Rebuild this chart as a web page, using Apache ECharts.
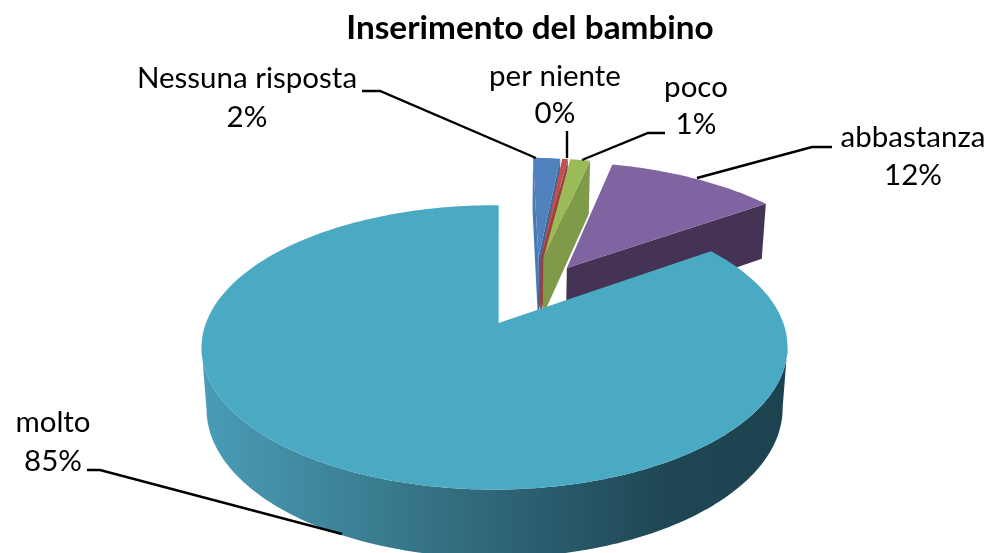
<!DOCTYPE html>
<html><head><meta charset="utf-8">
<style>html,body{margin:0;padding:0;background:#fff}#c{width:990px;height:553px}</style>
<script src="https://cdn.jsdelivr.net/npm/echarts@6/dist/echarts.min.js"></script>
</head><body><div id="c"></div>
<script>
var titleText = 'Inserimento del bambino';
var categories = ['Nessuna risposta', 'per niente', 'poco', 'abbastanza', 'molto'];
var values = [1.9, 0.4, 1.4, 11.5, 84.8];
var percentLabels = ['2%', '0%', '1%', '12%', '85%'];

// styles and layout
var topColors = ['#4F81BD', '#C0504D', '#9BBB59', '#8064A2', '#4AA9C3'];
var wallColors = ['#3D659B', '#9C3F3C', '#7F9A48', '#453355', '#2F6A7D'];
var explode = [0.29, 0.29, 0.29, 0.25, 0.25];
var explodeDir = [7, 8.7, 10.7, null, null];
var radius = [1, 1, 1, 1.04, 1];
var drawOrder = [1, 2, 3, 0, 4];
var labelBoxes = [[247, 78, 117], [555, 76, 113], [696, 87, 124], [913, 137, 175], [53, 422, 461]];
var leaders = [
  [[362, 91], [380, 91], [536, 158]],
  [[567, 131], [567, 158]],
  [[665, 133], [648, 133], [582, 160]],
  [[832, 147], [812, 147], [697, 178]],
  [[87, 470], [100, 470], [342, 534]]
];
var view = {x: 499, y: 323, a: 288.6, b: 138, k: 0.172, m: 0.0137, ou: 0.1135, ov: -0.2228};

function project(U, V) {
  var u = U + view.ou, v = V + view.ov;
  var w = 1 - view.k * v + view.m * u;
  return [view.x + view.a * u / w, view.y + view.b * v / w];
}
function drop(p) {
  var d = 45.8 + 0.0456 * p[1];
  return [view.x + (p[0] - view.x) * (1 - d * 4 / (266 * 55)), p[1] + d];
}
var total = values.reduce(function (s, v) { return s + v; }, 0);
var bounds = [], acc = 0;
values.forEach(function (v) {
  bounds.push([acc / total * 2 * Math.PI, (acc + v) / total * 2 * Math.PI]);
  acc += v;
});
function sliceGeo(i) {
  var a0 = bounds[i][0], a1 = bounds[i][1];
  var dir = explodeDir[i] === null ? (a0 + a1) / 2 : explodeDir[i] * Math.PI / 180;
  var cu = explode[i] * Math.sin(dir), cv = -explode[i] * Math.cos(dir), r = radius[i];
  var pts = [], n = Math.max(4, Math.round((a1 - a0) / 0.02));
  for (var j = 0; j <= n; j++) {
    var a = a0 + (a1 - a0) * j / n;
    pts.push(project(cu + r * Math.sin(a), cv - r * Math.cos(a)));
  }
  return {apex: project(cu, cv), arc: pts, cu: cu, cv: cv};
}
function poly(points, fill, z) {
  return {type: 'polygon', shape: {points: points}, style: {fill: fill, stroke: null}, z2: z};
}
function renderSlice(params) {
  var i = params.dataIndex, g = sliceGeo(i), kids = [];
  var z = drawOrder[i] * 10;
  var first = g.arc[0], last = g.arc[g.arc.length - 1];
  if (i === 4) {
    // front rim of the large slice, from its rightmost to its leftmost point
    var grad = new echarts.graphic.LinearGradient(0, 0, 1, 0, [
      {offset: 0, color: '#4A9DB7'}, {offset: 0.3, color: '#3A7C90'},
      {offset: 0.55, color: '#2C6072'}, {offset: 0.8, color: '#1F4653'}, {offset: 1, color: '#1D4350'}
    ]);
    var hi = 0, lo = 0;
    g.arc.forEach(function (p, j) {
      if (p[0] > g.arc[hi][0]) hi = j;
      if (p[0] < g.arc[lo][0]) lo = j;
    });
    var front = g.arc.slice(hi, lo + 1);
    var bottom = front.map(drop).reverse();
    kids.push(poly(front.concat(bottom), grad, z));
  } else {
    if (i === 0) {
      kids.push(poly([g.apex, first, drop(first), drop(g.apex)], '#4A7AB5', z));
    }
    kids.push(poly([g.apex, last, drop(last), drop(g.apex)], wallColors[i], z + 1));
  }
  kids.push(poly([g.apex].concat(g.arc), topColors[i], z + 2));
  return {type: 'group', children: kids};
}
function renderLabel(params) {
  var i = params.dataIndex, box = labelBoxes[i], font = '29.5px Lato, sans-serif';
  return {type: 'group', children: [
    {type: 'polyline', shape: {points: leaders[i]}, style: {stroke: '#000', lineWidth: 2.4, fill: null}},
    {type: 'text', style: {text: categories[i], x: box[0], y: box[1], align: 'center', verticalAlign: 'middle', font: font, fill: '#000'}},
    {type: 'text', style: {text: percentLabels[i], x: box[0], y: box[2], align: 'center', verticalAlign: 'middle', font: font, fill: '#000'}}
  ]};
}
var chart = echarts.init(document.getElementById('c'), null, {renderer: 'canvas'});
chart.setOption({
  animation: false,
  backgroundColor: '#fff',
  title: {text: titleText, left: 525, top: 7, textAlign: 'center',
    textStyle: {fontFamily: 'Lato, sans-serif', fontWeight: 'bold', fontSize: 33.3, color: '#000'}},
  series: [
    {type: 'custom', coordinateSystem: 'none', silent: true, data: values, renderItem: renderSlice, z: 2},
    {type: 'custom', coordinateSystem: 'none', silent: true, data: values, renderItem: renderLabel, z: 3}
  ]
});
</script></body></html>
